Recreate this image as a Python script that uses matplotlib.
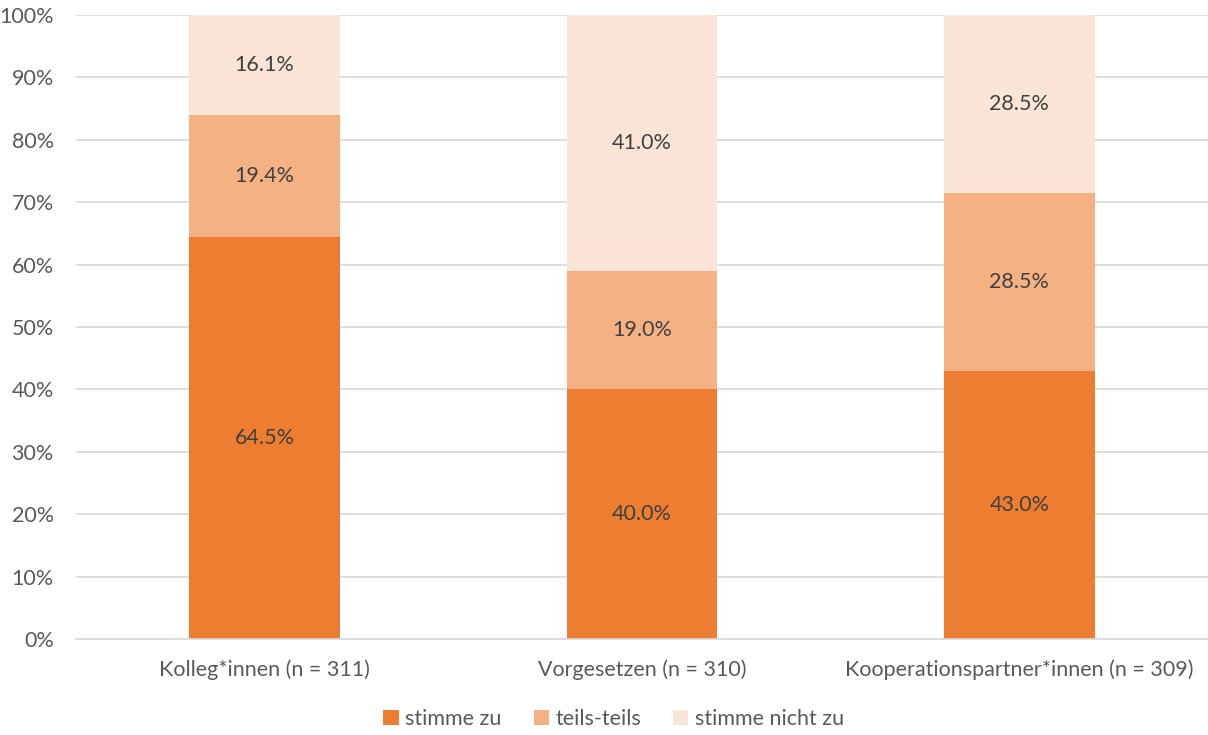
import numpy as np
import matplotlib
matplotlib.use("Agg")
import matplotlib.pyplot as plt

categories = ["Kolleg*innen (n = 311)", "Vorgesetzen (n = 310)", "Kooperationspartner*innen (n = 309)"]
series_names = ["stimme zu", "teils-teils", "stimme nicht zu"]
stimme_zu = [64.5, 40.0, 43.0]
teils_teils = [19.4, 19.0, 28.5]
stimme_nicht_zu = [16.1, 41.0, 28.5]
colors = ["#ED7D31", "#F4B183", "#FBE5D6"]

plt.rcParams['font.family'] = ['Lato', 'DejaVu Sans']

fig = plt.figure(figsize=(12.08, 7.35), dpi=100)
ax = fig.add_axes([76 / 1208, 1 - 639 / 735, 1 - 76 / 1208, (639 - 15) / 735])

x = np.arange(len(categories))
bottom = np.zeros(len(categories))
for vals, name, col in zip([stimme_zu, teils_teils, stimme_nicht_zu], series_names, colors):
    vals = np.array(vals)
    ax.bar(x, vals, 0.4, bottom=bottom, color=col, label=name, zorder=2)
    for xi, b, v in zip(x, bottom, vals):
        ax.text(xi, b + v / 2, f"{v:.1f}%", ha="center", va="center",
                fontsize=15.5, color="#404040", zorder=3)
    bottom += vals

ax.set_xlim(-0.5, 2.5)
ax.set_ylim(0, 100)
ax.set_yticks(np.arange(0, 101, 10))
ax.set_yticklabels([f"{t}%" for t in range(0, 101, 10)])
ax.set_xticks(x)
ax.set_xticklabels(categories)
ax.tick_params(axis="both", length=0, labelsize=15.5, labelcolor="#595959")
ax.tick_params(axis="y", pad=16)
ax.tick_params(axis="x", pad=15)
ax.yaxis.grid(True, color="#D9D9D9", linewidth=1.2, zorder=0)
for s in ["top", "right", "left"]:
    ax.spines[s].set_visible(False)
ax.spines["bottom"].set_color("#D9D9D9")
ax.spines["bottom"].set_linewidth(1.2)

fig.legend(loc="lower center", bbox_to_anchor=(0.508, -0.018), ncol=3, frameon=False,
           fontsize=15.5, handlelength=0.7, handleheight=0.7, handletextpad=0.3,
           columnspacing=1.5, labelcolor="#595959")

fig.savefig("out.png", dpi=100)
